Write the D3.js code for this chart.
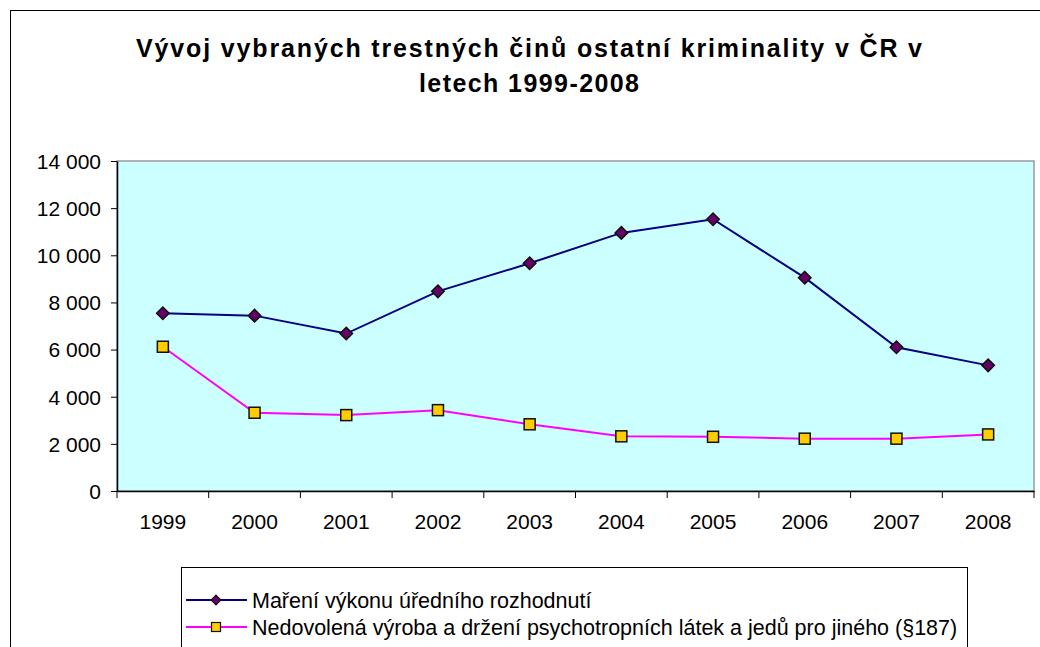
<!DOCTYPE html>
<html>
<head>
<meta charset="utf-8">
<script src="https://cdn.jsdelivr.net/npm/d3@7"></script>
<style>
	body { margin: 0; background: #fff; }
	svg text { font-family: "Liberation Sans", Arial, sans-serif; fill: #000; }
</style>
</head>
<body>
<svg id="chart" width="1040" height="647"></svg>
<script>
// Chart data
const years = ["1999", "2000", "2001", "2002", "2003", "2004", "2005", "2006", "2007", "2008"];
const mareni = [7540, 7440, 6680, 8470, 9660, 10950, 11530, 9050, 6100, 5330];
const nedovolena = [6120, 3320, 3220, 3430, 2830, 2320, 2300, 2220, 2220, 2400];
const yTicks = [0, 2000, 4000, 6000, 8000, 10000, 12000, 14000];
const seriesNames = [
	"Maření výkonu úředního rozhodnutí",
	"Nedovolená výroba a držení psychotropních látek a jedů pro jiného (§187)"
];
const titleLines = ["Vývoj vybraných trestných činů ostatní kriminality v ČR v", "letech 1999-2008"];

const svg = d3.select("#chart");

const margin = {top: 161, right: 6, bottom: 156, left: 117};
const plotW = 1040 - margin.left - margin.right,
	  plotH = 647 - margin.top - margin.bottom;

// Outer chart frame (runs off the page on right / bottom)
svg.append("rect")
	.attr("x", 10.5).attr("y", 10.5)
	.attr("width", 1100).attr("height", 700)
	.attr("fill", "none").attr("stroke", "#000").attr("stroke-width", 1);

// Title - Excel spreads the letters, so stretch to the measured widths
const titleWidths = [786, 220];
svg.append("g").selectAll("text")
	.data(titleLines)
	.enter().append("text")
	.attr("x", (d, i) => 529 - titleWidths[i] / 2)
	.attr("y", (d, i) => 57 + i * 35)
	.attr("textLength", (d, i) => titleWidths[i])
	.attr("lengthAdjust", "spacing")
	.style("font-size", "25px")
	.style("font-weight", "bold")
	.text(d => d);

const x = d3.scaleBand().domain(years).range([0, plotW]);
const y = d3.scaleLinear().domain([0, 14000]).range([plotH, 0]);

const g = svg.append("g").attr("transform", `translate(${margin.left},${margin.top})`);

// Plot area
g.append("rect")
	.attr("width", plotW).attr("height", plotH)
	.attr("fill", "#CCFFFF")
	.attr("stroke", "#9a9a9a").attr("stroke-width", 1.5);

// Y axis
const yAxis = g.append("g")
	.call(d3.axisLeft(y).tickValues(yTicks).tickSize(6).tickSizeOuter(0)
		.tickFormat(d => d3.format(",")(d).replace(/,/g, " ")));
yAxis.selectAll("text").style("font-size", "21px").attr("x", -16).attr("dy", "0.35em");

// X axis with ticks between categories
const xAxis = g.append("g").attr("transform", `translate(0,${plotH})`)
	.call(d3.axisBottom(x).tickSize(0).tickSizeOuter(0));
xAxis.selectAll("text").style("font-size", "21px").attr("y", 23).attr("dy", "0.71em");
const bounds = d3.range(years.length + 1).map(i => i * x.step());
xAxis.selectAll(".sep").data(bounds).enter().append("line")
	.attr("x1", d => d).attr("x2", d => d)
	.attr("y1", 0).attr("y2", 7)
	.attr("stroke", "#000");
svg.selectAll(".domain").attr("stroke", "#000").attr("stroke-width", 1.5);
svg.selectAll(".tick line").attr("stroke", "#000");

const cx = (d, i) => x(years[i]) + x.bandwidth() / 2;
const line = d3.line().x(cx).y(d => y(d));

// Series 1: navy line with purple diamonds
g.append("path").datum(mareni)
	.attr("d", line).attr("fill", "none")
	.attr("stroke", "#000080").attr("stroke-width", 2);
g.selectAll(".dia").data(mareni).enter().append("path")
	.attr("d", d3.symbol(d3.symbolDiamond2, 100))
	.attr("transform", (d, i) => `translate(${cx(d, i)},${y(d)})`)
	.attr("fill", "#660066").attr("stroke", "#111").attr("stroke-width", 1.5);

// Series 2: magenta line with yellow squares
g.append("path").datum(nedovolena)
	.attr("d", line).attr("fill", "none")
	.attr("stroke", "#FF00FF").attr("stroke-width", 2);
g.selectAll(".sq").data(nedovolena).enter().append("rect")
	.attr("x", (d, i) => cx(d, i) - 5.5).attr("y", d => y(d) - 5.5)
	.attr("width", 11).attr("height", 11)
	.attr("fill", "#FFCC00").attr("stroke", "#111").attr("stroke-width", 1.5);

// Legend
const legend = svg.append("g").attr("transform", "translate(181,567)");
legend.append("rect")
	.attr("x", 0.5).attr("y", 0.5).attr("width", 786).attr("height", 120)
	.attr("fill", "#fff").attr("stroke", "#000");

const legendItems = legend.selectAll(".item")
	.data(seriesNames)
	.enter().append("g")
	.attr("transform", (d, i) => `translate(0,${33 + i * 27})`);

legendItems.append("line")
	.attr("x1", 5).attr("x2", 66).attr("y1", 0).attr("y2", 0)
	.attr("stroke", (d, i) => i ? "#FF00FF" : "#000080").attr("stroke-width", 2);
legendItems.each(function(d, i) {
	const item = d3.select(this);
	if (i === 0) {
		item.append("path")
			.attr("d", d3.symbol(d3.symbolDiamond2, 60))
			.attr("transform", "translate(35,0)")
			.attr("fill", "#660066").attr("stroke", "#111").attr("stroke-width", 1.2);
	} else {
		item.append("rect")
			.attr("x", 30.5).attr("y", -4.5).attr("width", 9).attr("height", 9)
			.attr("fill", "#FFCC00").attr("stroke", "#111").attr("stroke-width", 1.2);
	}
});
legendItems.append("text")
	.attr("x", 71).attr("y", 0).attr("dy", "0.35em")
	.style("font-size", "21.5px")
	.text(d => d);
</script>
</body>
</html>
